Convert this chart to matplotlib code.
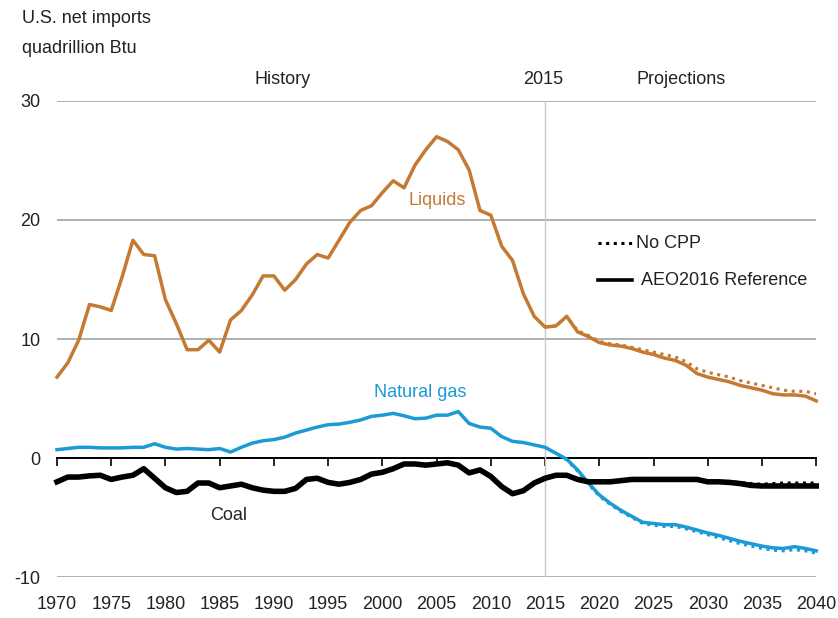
import matplotlib.pyplot as plt
import numpy as np

plt.rcParams["font.family"] = ["Liberation Sans", "DejaVu Sans"]
plt.rcParams["axes.unicode_minus"] = False

years = np.arange(1970, 2041)

liquids = [6.8, 8.0, 9.9, 12.9, 12.7, 12.4, 15.2, 18.3, 17.1, 17.0,
           13.3, 11.3, 9.1, 9.1, 9.9, 8.9, 11.6, 12.4, 13.7, 15.3,
           15.3, 14.1, 15.0, 16.3, 17.1, 16.8, 18.3, 19.8, 20.8, 21.2,
           22.3, 23.3, 22.7, 24.6, 25.9, 27.0, 26.6, 25.9, 24.2, 20.8,
           20.4, 17.8, 16.6, 13.8, 11.9, 11.0, 11.1, 11.9, 10.6, 10.2,
           9.7, 9.5, 9.4, 9.2, 8.9, 8.7, 8.4, 8.2, 7.8, 7.1,
           6.8, 6.6, 6.4, 6.1, 5.9, 5.7, 5.4, 5.3, 5.3, 5.2, 4.8]
liquids_nocpp = [11.0, 11.1, 11.9, 10.7, 10.3, 9.8, 9.6, 9.5, 9.3, 9.1,
                 8.9, 8.7, 8.5, 8.1, 7.5, 7.2, 7.0, 6.8, 6.5, 6.3, 6.1,
                 5.9, 5.7, 5.6, 5.6, 5.4]

gas = [0.7, 0.8, 0.9, 0.9, 0.85, 0.85, 0.85, 0.9, 0.9, 1.2,
       0.9, 0.75, 0.8, 0.75, 0.7, 0.8, 0.5, 0.9, 1.25, 1.45,
       1.55, 1.75, 2.1, 2.35, 2.6, 2.8, 2.85, 3.0, 3.2, 3.5,
       3.6, 3.75, 3.55, 3.3, 3.35, 3.6, 3.6, 3.9, 2.9, 2.6,
       2.5, 1.8, 1.4, 1.3, 1.1, 0.9, 0.4, -0.1, -1.0, -2.1,
       -3.1, -3.8, -4.4, -4.9, -5.4, -5.5, -5.6, -5.6, -5.8, -6.05,
       -6.3, -6.5, -6.75, -7.0, -7.2, -7.4, -7.55, -7.6, -7.45, -7.6, -7.8]
gas_nocpp = [0.9, 0.4, -0.15, -1.1, -2.2, -3.2, -3.9, -4.5, -5.0, -5.5,
             -5.65, -5.75, -5.75, -5.95, -6.2, -6.45, -6.7, -6.95, -7.2, -7.4,
             -7.6, -7.75, -7.8, -7.7, -7.8, -8.0]

coal = [-2.0, -1.6, -1.6, -1.5, -1.45, -1.8, -1.6, -1.45, -0.9, -1.7,
        -2.5, -2.9, -2.8, -2.1, -2.1, -2.5, -2.35, -2.2, -2.5, -2.7,
        -2.8, -2.8, -2.55, -1.8, -1.7, -2.05, -2.2, -2.05, -1.8, -1.35,
        -1.2, -0.9, -0.5, -0.5, -0.6, -0.5, -0.4, -0.6, -1.25, -1.0,
        -1.55, -2.4, -3.0, -2.75, -2.1, -1.7, -1.45, -1.45, -1.8, -2.0,
        -2.0, -2.0, -1.9, -1.8, -1.8, -1.8, -1.8, -1.8, -1.8, -1.8,
        -2.0, -2.0, -2.05, -2.15, -2.3, -2.35, -2.35, -2.35, -2.35, -2.35, -2.35]
coal_nocpp = [-1.7, -1.45, -1.45, -1.8, -2.0, -2.0, -2.0, -1.9, -1.8, -1.8,
              -1.8, -1.8, -1.8, -1.8, -1.8, -1.95, -1.95, -2.0, -2.05, -2.15,
              -2.2, -2.15, -2.1, -2.1, -2.1, -2.1]
proj_years = np.arange(2015, 2041)

c_liq = "#C47A33"
c_gas = "#1A9AD6"
c_coal = "#000000"
grid_c = "#AAAAAA"
txt_c = "#222222"
fs = 13

fig = plt.figure(figsize=(8.38, 6.18), dpi=100)
ax = fig.add_axes([0.068, 0.0663, 0.906, 0.7703])

for y in [-10, 10, 20, 30]:
    ax.axhline(y, color=grid_c, lw=1.3, zorder=1)
ax.axvline(2015, ymin=0, ymax=1, color="#C8C8C8", lw=1.0, zorder=1)

ax.plot(proj_years, liquids_nocpp, color=c_liq, lw=2.2, ls=(0, (1, 1.5)), zorder=3)
ax.plot(proj_years, gas_nocpp, color=c_gas, lw=2.2, ls=(0, (1, 1.5)), zorder=3)
ax.plot(proj_years, coal_nocpp, color=c_coal, lw=2.2, ls=(0, (1, 1.5)), zorder=3)
ax.plot(years, liquids, color=c_liq, lw=2.5, zorder=4, clip_on=False)
ax.plot(years, gas, color=c_gas, lw=2.5, zorder=4, clip_on=False)
ax.plot(years, coal, color=c_coal, lw=4.0, zorder=4, clip_on=False)

ax.set_xlim(1970, 2040)
ax.set_ylim(-10, 30)
for s in ax.spines.values():
    s.set_visible(False)
ax.set_yticks([-10, 0, 10, 20, 30])
ax.tick_params(axis="y", length=0, pad=12, labelsize=fs, labelcolor=txt_c)
ax.set_xticks(np.arange(1970, 2041, 5))
ax.tick_params(axis="x", length=0, pad=14, labelsize=fs, labelcolor=txt_c)

# zero line with downward ticks
sec = ax.secondary_xaxis(0.25)
sec.set_xticks(np.arange(1970, 2041, 5))
sec.tick_params(axis="x", direction="out", length=6, width=1.2, color="black", labelbottom=False)
sec.spines["bottom"].set_linewidth(1.4)
sec.spines["bottom"].set_color("black")

ax.text(2005.1, 21.6, "Liquids", color=c_liq, fontsize=fs, ha="center", va="center")
ax.text(2003.5, 5.5, "Natural gas", color=c_gas, fontsize=fs, ha="center", va="center")
ax.text(1985.8, -4.8, "Coal", color=txt_c, fontsize=fs, ha="center", va="center")

fig.text(0.026, 0.97, "U.S. net imports", fontsize=fs, color=txt_c, ha="left", va="center")
fig.text(0.026, 0.922, "quadrillion Btu", fontsize=fs, color=txt_c, ha="left", va="center")
fig.text(283 / 838, 1 - 80 / 618, "History", fontsize=fs, color=txt_c, ha="center", va="center")
fig.text(543 / 838, 1 - 80 / 618, "2015", fontsize=fs, color=txt_c, ha="center", va="center")
fig.text(681 / 838, 1 - 80 / 618, "Projections", fontsize=fs, color=txt_c, ha="center", va="center")

# legend
ax.plot([2019.9, 2023.05], [18.05, 18.05], color="black", lw=2.2, ls=(0, (1, 1.5)))
ax.text(2023.4, 18.05, "No CPP", fontsize=fs, color=txt_c, va="center")
ax.plot([2019.9, 2023.05], [14.95, 14.95], color="black", lw=2.6)
ax.text(2023.8, 14.95, "AEO2016 Reference", fontsize=fs, color=txt_c, va="center")

plt.savefig("out.png", dpi=100)
